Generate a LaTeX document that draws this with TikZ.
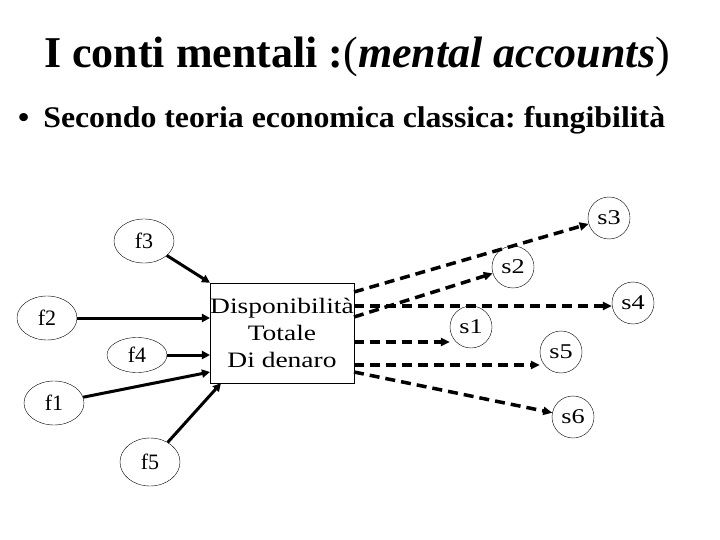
\documentclass[tikz,border=0pt]{standalone}
\usepackage{fontspec}
\setmainfont{Liberation Serif}
\newfontfamily\widefont[FakeStretch=1.25]{Liberation Serif}
\newfontfamily\largofont[FakeStretch=1.06]{Liberation Serif}
\frenchspacing
\usetikzlibrary{positioning}
\usetikzlibrary{arrows.meta}
\usetikzlibrary{shapes.geometric}

\tikzset{
  fonte/.style={ellipse, draw, thin, minimum width=60pt, minimum height=44pt, inner sep=0pt, font=\fontsize{22}{24}\selectfont},
  spesa/.style={circle, draw, thin, minimum size=42pt, inner sep=0pt, font=\widefont\fontsize{21}{22}\selectfont},
  entra/.style={line width=3pt, -{Triangle[length=8pt,width=8pt]}},
  esce/.style={line width=3.5pt, dash pattern=on 10pt off 6pt, -{Triangle[length=9pt,width=8pt]}}
}

\begin{document}
\begin{tikzpicture}[x=1pt,y=-1pt]
  \useasboundingbox (0,0) rectangle (720,540);

  % titolo e punto elenco
  \node[anchor=base, font=\bfseries\fontsize{44}{48}\selectfont] (titolo) at (357,68) {I conti mentali :{\mdseries(}\textit{mental accounts}{\mdseries)}};
  \node[anchor=base west, font=\largofont\bfseries\fontsize{30}{34}\selectfont, inner sep=0pt] (punto) at (18,128) {\textbullet\hspace{14pt}Secondo teoria economica classica: fungibilità};

  % disponibilita totale
  \node[draw, thin, minimum width=142pt, minimum height=100pt, align=center, inner sep=0pt,
        font=\widefont\fontsize{22}{27}\selectfont] (tot) at (282,333) {Disponibilità\\Totale\\Di denaro};

  % fonti
  \node[fonte] (f3) at (144,241) {f3};
  \node[fonte] (f2) at (47,318) {f2};
  \node[fonte, minimum height=35pt] (f4) at (137,355) {f4};
  \node[fonte] (f1) at (54,403) {f1};
  \node[fonte, minimum height=48pt] (f5) at (150,462) {f5};

  % spese
  \node[spesa] (s3) at (609,218) {s3};
  \node[spesa] (s2) at (513,267) {s2};
  \node[spesa] (s4) at (633,303) {s4};
  \node[spesa] (s1) at (471,327) {s1};
  \node[spesa] (s5) at (561,352) {s5};
  \node[spesa] (s6) at (573,417) {s6};

  % frecce in entrata
  \draw[entra] (f3) -- (tot.north west);
  \draw[entra] (f2) -- (f2 -| tot.west);
  \draw[entra] (f4) -- (f4 -| tot.west);
  \draw[entra] (f1) -- ([yshift=-39pt]tot.west);
  \draw[entra] (f5) -- ([xshift=11pt]tot.south west);

  % frecce in uscita
  \draw[esce] ([yshift=41pt]tot.east) -- (s3);
  \draw[esce] ([yshift=16pt]tot.east) -- (s2);
  \draw[esce] ([yshift=27pt]tot.east) -- ([yshift=27pt]tot.east -| s4.west);
  \draw[esce] ([yshift=-9pt]tot.east) -- ([yshift=-9pt]tot.east -| s1.west);
  \draw[esce] ([yshift=-32pt]tot.east) -- ([yshift=-32pt]tot.east -| s5.west);
  \draw[esce] ([yshift=-39pt]tot.east) -- (s6);
\end{tikzpicture}
\end{document}
